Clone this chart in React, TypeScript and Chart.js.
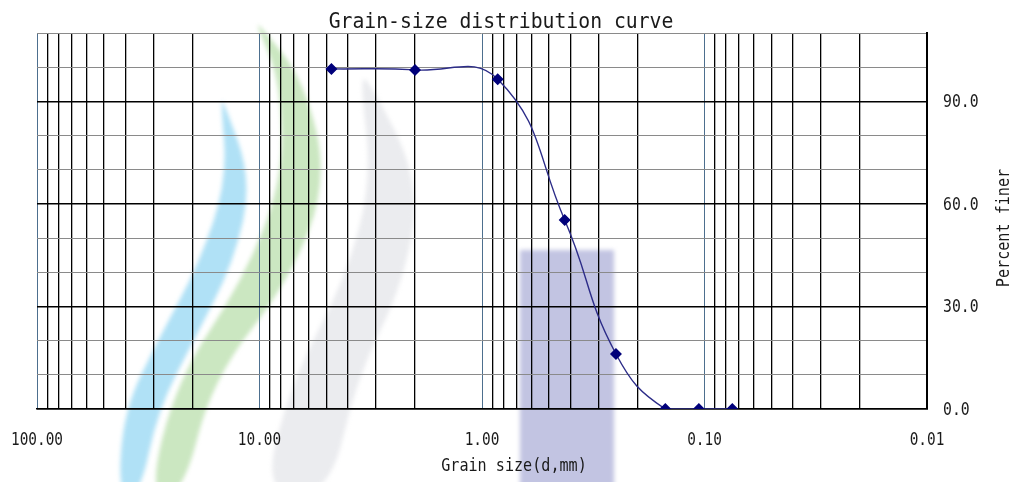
import { useEffect, useRef } from "react";
import { Chart, registerables } from "chart.js";

Chart.register(...registerables);

// Sieve analysis results: grain size (mm) vs. percent finer (%)
const grainSizes = [4.75, 2.0, 0.85, 0.425, 0.25, 0.15, 0.106, 0.075];
const percentFiner = [99.5, 99.2, 96.5, 55.3, 16.1, 0, 0, 0];

// Labelled ticks
const xTickValues = [100, 10, 1, 0.1, 0.01];
const xTickLabels = ["100.00", "10.00", "1.00", "0.10", "0.01"];
const yTickValues = [0, 30, 60, 90];
const yTickLabels = ["0.0", "30.0", "60.0", "90.0"];

const chartTitle = "Grain-size distribution curve";
const xAxisTitle = "Grain size(d,mm)";
const yAxisTitle = "Percent finer";

const MONO = '"DejaVu Sans Mono", "Liberation Mono", monospace';

// Log grid: 1..9 x 10^n for every decade between 0.01 and 100
const xGridValues: number[] = [];
for (let e = -2; e <= 1; e++) {
  for (let m = 1; m <= 9; m++) {
    xGridValues.push(Number((m * Math.pow(10, e)).toPrecision(6)));
  }
}
xGridValues.push(100);

const yGridValues: number[] = [];
for (let v = 0; v <= 110; v += 10) yGridValues.push(v);

const isDecade = (v: number) => {
  const l = Math.log10(v);
  return Math.abs(l - Math.round(l)) < 1e-6;
};

function drawText(
  ctx: CanvasRenderingContext2D,
  text: string,
  x: number,
  y: number,
  size: number,
  sx: number,
  align: CanvasTextAlign,
  baseline: CanvasTextBaseline,
  rot = 0
) {
  ctx.save();
  ctx.translate(x, y);
  if (rot) ctx.rotate(rot);
  ctx.scale(sx, 1);
  ctx.font = `${size}px ${MONO}`;
  ctx.textAlign = align;
  ctx.textBaseline = baseline;
  ctx.fillStyle = "#1a1a1a";
  ctx.fillText(text, 0, 0);
  ctx.restore();
}

type Pt = [number, number];

// Smooth closed band: left edge down, right edge back up, joined with quadratic midpoints
function band(ctx: CanvasRenderingContext2D, left: Pt[], right: Pt[], color: string) {
  const pts: Pt[] = [...left, ...right.slice().reverse()];
  const n = pts.length;
  const mid = (a: Pt, b: Pt): Pt => [(a[0] + b[0]) / 2, (a[1] + b[1]) / 2];
  ctx.beginPath();
  const start = mid(pts[n - 1], pts[0]);
  ctx.moveTo(start[0], start[1]);
  for (let i = 0; i < n; i++) {
    const p = pts[i];
    const m = mid(p, pts[(i + 1) % n]);
    ctx.quadraticCurveTo(p[0], p[1], m[0], m[1]);
  }
  ctx.closePath();
  ctx.fillStyle = color;
  ctx.fill();
}

// Faint emblem painted behind the grid
const backdropPlugin = {
  id: "backdrop",
  beforeDraw(chart: Chart) {
    const ctx = chart.ctx;
    ctx.save();
    ctx.fillStyle = "#ffffff";
    ctx.fillRect(0, 0, chart.width, chart.height);
    ctx.filter = "blur(2px)";
    // gray swoosh
    band(
      ctx,
      [[360, 80], [372, 180], [345, 280], [292, 380], [262, 495]],
      [[368, 78], [420, 180], [405, 280], [356, 380], [330, 495]],
      "#ebecef"
    );
    // green swoosh
    band(
      ctx,
      [[257, 26], [280, 80], [283, 180], [243, 280], [177, 380], [148, 495]],
      [[259, 24], [304, 80], [328, 180], [290, 280], [212, 380], [183, 495]],
      "#cbe7c1"
    );
    // blue swoosh
    band(
      ctx,
      [[221, 102], [227, 180], [200, 262], [158, 340], [124, 410], [118, 495]],
      [[223, 100], [252, 180], [234, 262], [194, 340], [158, 410], [140, 495]],
      "#b0e1f6"
    );
    // lavender block
    ctx.fillStyle = "#c2c4e2";
    ctx.fillRect(520, 250, 94, 245);
    ctx.restore();
  },
};

// Titles and tick labels, placed from the chart's scales
const labelsPlugin = {
  id: "labels",
  afterDraw(chart: Chart) {
    const ctx = chart.ctx;
    const xs = chart.scales.x;
    const ys = chart.scales.y;
    const area = chart.chartArea;
    drawText(ctx, chartTitle, 501, 28, 21, 0.94, "center", "alphabetic");
    xTickValues.forEach((v, i) => {
      drawText(ctx, xTickLabels[i], xs.getPixelForValue(v), area.bottom + 36, 18, 0.8, "center", "alphabetic");
    });
    yTickValues.forEach((v, i) => {
      drawText(ctx, yTickLabels[i], area.right + 16, ys.getPixelForValue(v) + 6, 18, 0.82, "left", "alphabetic");
    });
    drawText(ctx, xAxisTitle, 514, 471, 18, 0.84, "center", "alphabetic");
    drawText(ctx, yAxisTitle, 1004, 228, 18, 0.84, "center", "middle", -Math.PI / 2);
  },
};

export default function App() {
  const canvasRef = useRef<HTMLCanvasElement | null>(null);

  useEffect(() => {
    if (!canvasRef.current) return;
    const chart = new Chart(canvasRef.current, {
      type: "line",
      data: {
        datasets: [
          {
            data: grainSizes.map((d, i) => ({ x: d, y: percentFiner[i] })),
            borderColor: "#2c2c88",
            borderWidth: 1.4,
            backgroundColor: "#00007a",
            pointStyle: "rectRot",
            pointRadius: 5,
            pointBorderColor: "#00007a",
            pointBackgroundColor: "#00007a",
            tension: 0.45,
            fill: false,
          },
        ],
      },
      options: {
        animation: false,
        responsive: false,
        devicePixelRatio: 1,
        layout: { padding: { left: 37, top: 33, right: 92, bottom: 73 } },
        plugins: {
          legend: { display: false },
          title: { display: false },
          tooltip: { enabled: false },
        },
        scales: {
          x: {
            type: "logarithmic",
            reverse: true,
            min: 0.01,
            max: 100,
            afterBuildTicks: (s: any) => {
              s.ticks = xGridValues.map((v) => ({ value: v }));
            },
            afterFit: (s: any) => {
              s.height = 0;
            },
            ticks: { display: false },
            grid: {
              drawTicks: false,
              color: (c: any) => (isDecade(c.tick.value) ? "#4d6f8e" : "#000000"),
              lineWidth: (c: any) => (isDecade(c.tick.value) ? 1 : 1.3),
            },
            border: { display: true, color: "#000000", width: 1.5 },
          },
          y: {
            type: "linear",
            position: "right",
            min: 0,
            max: 110,
            afterBuildTicks: (s: any) => {
              s.ticks = yGridValues.map((v) => ({ value: v }));
            },
            afterFit: (s: any) => {
              s.width = 0;
            },
            ticks: { display: false },
            grid: {
              drawTicks: false,
              color: (c: any) => (c.tick.value % 30 === 0 ? "#000000" : "#8a8a8a"),
              lineWidth: (c: any) => (c.tick.value % 30 === 0 ? 1.4 : 1),
            },
            border: { display: true, color: "#000000", width: 2 },
          },
        },
      },
      plugins: [backdropPlugin, labelsPlugin],
    });
    return () => chart.destroy();
  }, []);

  return (
    <div style={{ position: "absolute", left: 0, top: 0, width: 1019, height: 482 }}>
      <canvas ref={canvasRef} width={1019} height={482} />
    </div>
  );
}
